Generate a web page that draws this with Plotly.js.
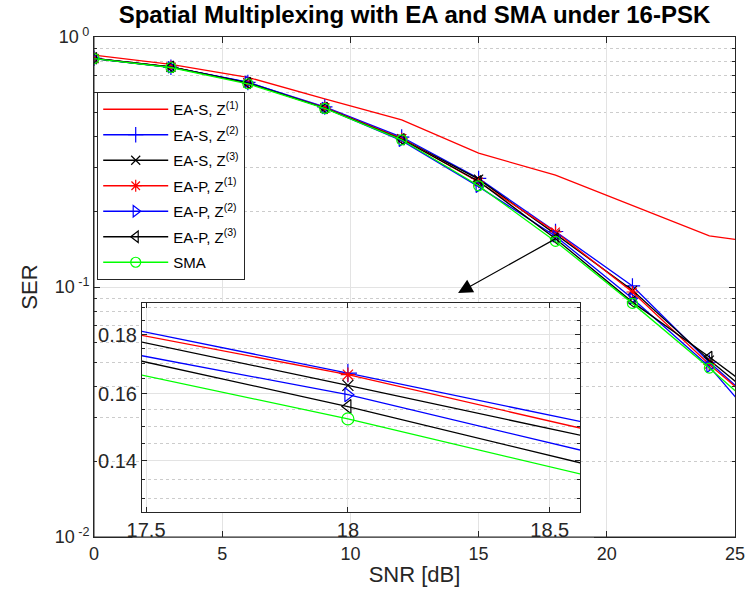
<!DOCTYPE html>
<html><head><meta charset="utf-8">
<script src="https://cdn.plot.ly/plotly-3.0.1.min.js"></script>
<style>html,body{margin:0;padding:0;background:#fff}</style>
</head><body><div id="chart" style="width:747px;height:602px"></div>
<script>
// SNR points (dB); the last point lies beyond the visible x-range and is clipped like the original
const snr = [0, 3, 6, 9, 12, 15, 18, 21, 24, 27];
const easZ1 = [0.847, 0.777, 0.690, 0.565, 0.466, 0.343, 0.280, 0.212, 0.160, 0.1455];
const easZ2 = [0.822, 0.757, 0.658, 0.525, 0.398, 0.272, 0.1667, 0.1010, 0.0500, 0.0266];
const easZ3 = [0.820, 0.757, 0.655, 0.520, 0.392, 0.270, 0.1627, 0.0970, 0.0510, 0.0285];
const eapZ1 = [0.822, 0.760, 0.655, 0.522, 0.392, 0.263, 0.1662, 0.0955, 0.0490, 0.0267];
const eapZ2 = [0.820, 0.757, 0.660, 0.520, 0.385, 0.252, 0.1597, 0.0900, 0.0480, 0.0211];
const eapZ3 = [0.822, 0.760, 0.655, 0.520, 0.390, 0.265, 0.1560, 0.0870, 0.0525, 0.0309];
const sma   = [0.820, 0.755, 0.650, 0.518, 0.388, 0.254, 0.1522, 0.0860, 0.0474, 0.0254];

const seriesNames = ['EA-S, Z<sup>(1)</sup>', 'EA-S, Z<sup>(2)</sup>', 'EA-S, Z<sup>(3)</sup>',
                     'EA-P, Z<sup>(1)</sup>', 'EA-P, Z<sup>(2)</sup>', 'EA-P, Z<sup>(3)</sup>', 'SMA'];
const seriesData = [easZ1, easZ2, easZ3, eapZ1, eapZ2, eapZ3, sma];
const mainTickVals = [0, 5, 10, 15, 20, 25];
const yTickVals = [0.01, 0.1, 1];
const yTickText = ['10<sup> -2</sup>', '10<sup> -1</sup>', '10<sup> 0</sup>'];
const insetXTicks = [17.5, 18, 18.5];
const insetYTicks = [0.14, 0.16, 0.18];
const insetYTickText = ['0.14', '0.16', '0.18'];

const styles = [
  {color:'#ff0000', symbol:null},
  {color:'#0000ff', symbol:'cross-thin-open', size:11},
  {color:'#000000', symbol:'x-thin-open', size:9},
  {color:'#ff0000', symbol:'asterisk-open', size:10},
  {color:'#0000ff', symbol:'triangle-right-open', size:10},
  {color:'#000000', symbol:'triangle-left-open', size:10},
  {color:'#00ff00', symbol:'circle-open', size:10}
];

const traces = [];
seriesData.forEach((d, i) => {
  const s = styles[i];
  const base = {
    x: snr, y: d, name: seriesNames[i],
    mode: s.symbol ? 'lines+markers' : 'lines',
    line: {color: s.color, width: 1.3},
    legendgroup: 'g' + i
  };
  if (s.symbol) base.marker = {symbol: s.symbol, size: s.size, color: s.color, line: {color: s.color, width: 1.2}};
  traces.push(Object.assign({}, base, {xaxis:'x', yaxis:'y', showlegend:true}));
});
seriesData.forEach((d, i) => {
  const s = styles[i];
  const t = {
    x: snr, y: d, name: seriesNames[i],
    mode: s.symbol ? 'lines+markers' : 'lines',
    line: {color: s.color, width: 1.3},
    xaxis:'x2', yaxis:'y2', showlegend:false, legendgroup:'g' + i
  };
  if (s.symbol) t.marker = {symbol: s.symbol, size: s.size + 2, color: s.color, line: {color: s.color, width: 1.2}};
  traces.push(t);
});

const axisCol = '#262626';
const gridCol = '#e3e3e3';
const minorGridCol = '#cccccc';
const minorY = [];
[0.01, 0.1].forEach(b => { for (let k = 2; k <= 9; k++) minorY.push(+(b * k).toFixed(3)); });
const insetMinorY = [0.13, 0.135, 0.145, 0.15, 0.155, 0.165, 0.17, 0.175, 0.185, 0.19];

const layout = {
  width: 747, height: 602,
  margin: {l: 94, r: 12, t: 37, b: 65},
  paper_bgcolor: '#ffffff', plot_bgcolor: '#ffffff',
  font: {family: 'Liberation Sans, Arial, sans-serif', size: 18, color: axisCol},
  title: {text: '<b>Spatial Multiplexing with EA and SMA under 16-PSK</b>',
          font: {size: 24, color: '#000000'}, x: 0.5, xref: 'paper', xanchor: 'center',
          y: 1 - 15/602, yref: 'container', yanchor: 'middle'},
  showlegend: true,
  legend: {x: 0.005, y: 0.89, xanchor: 'left', yanchor: 'top', bgcolor: '#ffffff',
           bordercolor: axisCol, borderwidth: 1, font: {size: 15, color: '#000000'},
           tracegroupgap: 3, itemwidth: 65},
  xaxis: {domain: [0, 1], range: [0, 25], tickmode: 'array', tickvals: mainTickVals,
          ticks: 'inside', ticklen: 6, tickcolor: axisCol, mirror: 'ticks', showline: true,
          linecolor: axisCol, linewidth: 1, showgrid: true, gridcolor: gridCol, zeroline: false,
          title: {text: 'SNR [dB]', font: {size: 22}, standoff: 4}, automargin: false},
  yaxis: {domain: [0, 1], type: 'log', range: [-2, 0], tickmode: 'array', tickvals: yTickVals,
          ticktext: yTickText, ticks: 'inside', ticklen: 6, tickcolor: axisCol, mirror: 'ticks',
          showline: true, linecolor: axisCol, linewidth: 1, showgrid: true, gridcolor: gridCol,
          zeroline: false, automargin: false,
          minor: {tickmode: 'array', tickvals: minorY, ticks: 'inside', ticklen: 3, tickcolor: axisCol,
                  showgrid: true, gridcolor: minorGridCol, griddash: 'dot'},
          title: {text: 'SER', font: {size: 22}, standoff: 10}},
  xaxis2: {domain: [0.0749, 0.7582], anchor: 'y2', range: [17.49, 18.575], tickmode: 'array',
           tickvals: insetXTicks, ticks: 'inside', ticklen: 5, tickcolor: axisCol, mirror: 'ticks',
           showline: true, linecolor: axisCol, linewidth: 1, showgrid: true, gridcolor: gridCol,
           zeroline: false, automargin: false, tickfont: {size: 20}, ticklabelstandoff: 0},
  yaxis2: {domain: [0.05, 0.4686], anchor: 'x2', type: 'log', range: [-0.898, -0.7172],
           tickmode: 'array', tickvals: insetYTicks, ticktext: insetYTickText, ticks: 'inside',
           ticklen: 5, tickcolor: axisCol, mirror: 'ticks', showline: true, linecolor: axisCol,
           linewidth: 1, showgrid: true, gridcolor: gridCol, zeroline: false, automargin: false,
           tickfont: {size: 20},
           minor: {tickmode: 'array', tickvals: insetMinorY, ticks: 'inside', ticklen: 3,
                   tickcolor: axisCol, showgrid: true, gridcolor: minorGridCol, griddash: 'dot'}},
  shapes: [
    {type: 'rect', xref: 'x2 domain', yref: 'y2 domain', x0: 0, x1: 1, y0: 0, y1: 1,
     fillcolor: '#ffffff', line: {width: 0}, layer: 'below'},
    {type: 'rect', xref: 'paper', yref: 'paper', x0: 0.06, x1: 0.78, y0: -0.017, y1: -0.001,
     fillcolor: '#ffffff', line: {width: 0}, layer: 'above'},
    {type: 'line', xref: 'x domain', yref: 'y domain', x0: 0, x1: 0, y0: 0, y1: 1,
     line: {color: axisCol, width: 1}, layer: 'above'},
    {type: 'line', xref: 'x domain', yref: 'y domain', x0: 0, x1: 1, y0: 0, y1: 0,
     line: {color: axisCol, width: 1}, layer: 'above'}
  ],
  annotations: [
    {xref: 'x', yref: 'y', axref: 'x', ayref: 'y', x: 14.2, y: Math.log10(0.0946),
     ax: 18.05, ay: Math.log10(0.157), text: '', showarrow: true, arrowhead: 2,
     arrowsize: 2.4, arrowwidth: 1.2, arrowcolor: '#000000'}
  ]
};

Plotly.newPlot('chart', traces, layout, {displayModeBar: false, staticPlot: true});
</script>
</body></html>
